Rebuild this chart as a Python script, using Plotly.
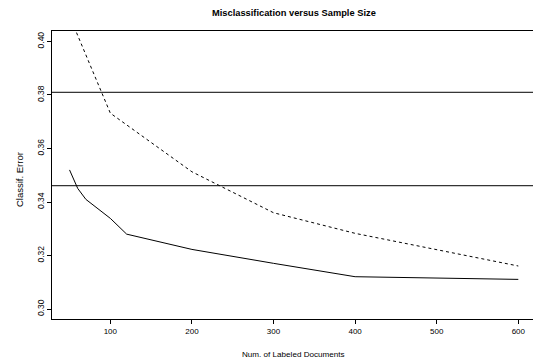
import plotly.graph_objects as go

# Data
sample_sizes = [50, 60, 70, 100, 120, 200, 300, 400, 600]
error_solid = [0.352, 0.3451, 0.3410, 0.3339, 0.3280, 0.3223, 0.3171, 0.3121, 0.3111]
dashed_sizes = [50, 100, 200, 300, 400, 600]
error_dashed = [0.4095, 0.3732, 0.3513, 0.3360, 0.3283, 0.3161]
ref_levels = [0.381, 0.3461]
x_ticks = [100, 200, 300, 400, 500, 600]
y_ticks = [0.30, 0.32, 0.34, 0.36, 0.38, 0.40]
y_tick_text = ["0.30", "0.32", "0.34", "0.36", "0.38", "0.40"]

W, H = 533, 361
L, T, B = 52, 31, 319
FONT = "Liberation Sans, Arial, Helvetica, sans-serif"

fig = go.Figure()
fig.add_trace(go.Scatter(x=dashed_sizes, y=error_dashed, mode="lines",
                         line=dict(color="black", width=1, dash="3px,3px"),
                         showlegend=False, hoverinfo="skip"))
fig.add_trace(go.Scatter(x=sample_sizes, y=error_solid, mode="lines",
                         line=dict(color="black", width=1),
                         showlegend=False, hoverinfo="skip"))

for lv in ref_levels:
    fig.add_shape(type="line", xref="paper", x0=0, x1=1, yref="y", y0=lv, y1=lv,
                  line=dict(color="black", width=1))

fig.update_layout(
    width=W, height=H,
    margin=dict(l=L, r=0, t=T, b=H - B, pad=0),
    paper_bgcolor="white", plot_bgcolor="white",
    font=dict(family=FONT, color="black", size=8),
    xaxis=dict(range=[28.5, 618], tickvals=x_ticks, showgrid=False, zeroline=False,
               showline=True, linecolor="black", linewidth=1, mirror=True,
               ticks="outside", ticklen=4, tickcolor="black",
               tickfont=dict(size=8, family=FONT)),
    yaxis=dict(range=[0.2963, 0.4039], tickvals=y_ticks, ticktext=y_tick_text,
               showgrid=False, zeroline=False,
               showline=True, linecolor="black", linewidth=1, mirror=False,
               ticks="outside", ticklen=4, tickcolor="black", tickangle=-90,
               tickfont=dict(size=8.5, family=FONT)),
    annotations=[
        dict(text="<b>Misclassification versus Sample Size</b>", xref="paper", yref="paper",
             x=0.503, y=1, yshift=T - 12.5, xanchor="center", yanchor="middle",
             showarrow=False, font=dict(size=9.3, family=FONT)),
        dict(text="Num. of Labeled Documents", xref="paper", yref="paper",
             x=0.503, y=0, yshift=-(354 - B), xanchor="center", yanchor="middle",
             showarrow=False, font=dict(size=8.1, family=FONT)),
        dict(text="Classif. Error", xref="paper", yref="paper",
             x=0, xshift=-(L - 19), y=(B - 180) / (B - T), xanchor="center", yanchor="middle",
             textangle=-90, showarrow=False, font=dict(size=9.5, family=FONT)),
    ],
)

fig.write_html("out.html", config={"displayModeBar": False},
               post_script="document.body.style.margin='0';document.body.style.overflow='hidden';")
